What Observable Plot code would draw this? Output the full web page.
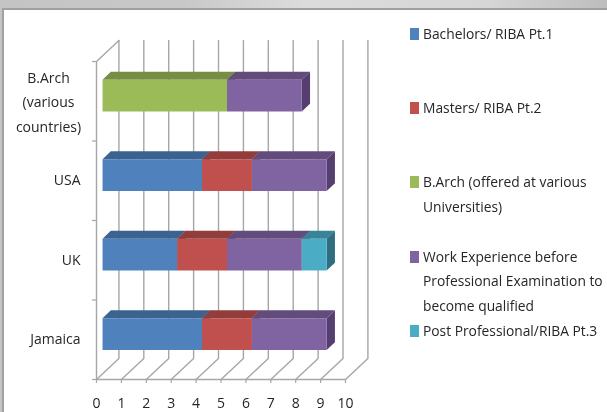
<!DOCTYPE html>
<html>
<head>
<meta charset="utf-8">
<script src="https://cdn.jsdelivr.net/npm/d3@7"></script>
<script src="https://cdn.jsdelivr.net/npm/@observablehq/plot@0.6"></script>
<style>
html,body{margin:0;padding:0;width:607px;height:412px;overflow:hidden;background:#fff;}
#bg{position:absolute;left:0;top:0;width:607px;height:412px;
 background:linear-gradient(90deg,#c4c4c4,#c8c8c8 30%,#dcdcdc 50%,#d6d6d6 80%,#bdbdbd);}
#panel{position:absolute;left:2px;top:8px;width:605px;height:404px;background:#fff;
 border-left:2px solid #a0a0a0;border-top:2px solid #a0a0a0;box-sizing:border-box;}
#wrap{position:absolute;left:0;top:0;width:607px;height:412px;filter:blur(0.45px);}
#chart svg{display:block;position:absolute;left:0;top:0;background:transparent;max-width:none;}
#legend{position:absolute;left:0;top:0;font-family:"Open Sans",sans-serif;font-size:13.8px;color:#262626;}
.item{position:absolute;left:423px;line-height:24.6px;white-space:pre;}
.swatch{position:absolute;left:410px;width:9px;height:12px;}
</style>
</head>
<body>
<div id="bg"></div>
<div id="panel"></div>
<div id="wrap">
<div id="chart"></div>
<div id="legend"></div>
</div>
<script>
const categories = ["Jamaica", "UK", "USA", "B.Arch\n(various\ncountries)"];
const seriesNames = ["Bachelors/ RIBA Pt.1", "Masters/ RIBA Pt.2", "B.Arch (offered at various\nUniversities)", "Work Experience before\nProfessional Examination to\nbecome qualified", "Post Professional/RIBA Pt.3"];
const bachelors = [4, 3, 4, 0];
const masters = [2, 2, 2, 0];
const barch = [0, 0, 0, 5];
const work = [3, 3, 3, 3];
const post = [0, 1, 0, 0];
const xTicks = [0,1,2,3,4,5,6,7,8,9,10];
const front = ["#4f81bd","#c0504d","#9bbb59","#8064a2","#4bacc6"];
const top_ = ["#3c6290","#923d3b","#768e44","#614c7b","#398397"];
const side = ["#3c6290","#923d3b","#768e44","#553f70","#2f6e80"];
const legendTop = [21.5, 96, 170, 244.5, 319];
const seriesValues = [bachelors, masters, barch, work, post];

// oblique projection: depth 0 = front plane, depth 1 = back wall
const DX = 0.9, DY = 0.265;
const P = (v, c, d) => ({px: v + d*DX, py: c + d*DY});
const D0 = 0.27, D1 = 0.64, HALF = 0.2;
const catPos = categories.map((_, i) => i + 0.5);

function poly(points, fill) {
  return Plot.line(points, {x:"px", y:"py", fill, stroke:"none", curve:"linear-closed"});
}
const marks = [];
// walls
const wallColor = "#a6a6a6";
const line = (pts, sw=1.4) => Plot.line(pts, {x:"px", y:"py", stroke:wallColor, strokeWidth:sw});
for (const t of xTicks) {
  marks.push(line([P(t,0,0), P(t,0,1), P(t,4,1)]));
}
marks.push(line([P(0,0,0), P(0,4,0), P(0,4,1)]));
marks.push(line([P(0,0,0), P(10,0,0)]));
// axis ticks
marks.push(Plot.axisX(xTicks, {tickSize:4, tickPadding:15, stroke:wallColor, fontSize:14, fill:"#262626", strokeWidth:1.2, textStroke:"none", label:null}));
marks.push(Plot.axisY([0,1,2,3,4], {tickSize:4, stroke:wallColor, strokeWidth:1.2, tickFormat:()=>"", label:null}));
// bars
categories.forEach((cat, ci) => {
  const c = catPos[ci];
  let start = 0;
  seriesValues.forEach((vals, si) => {
    const v = vals[ci];
    if (!v) return;
    const a = start, b = start + v;
    start = b;
    marks.push(poly([P(a,c+HALF,D0),P(b,c+HALF,D0),P(b,c+HALF,D1),P(a,c+HALF,D1)], top_[si]));
    marks.push(poly([P(b,c-HALF,D0),P(b,c+HALF,D0),P(b,c+HALF,D1),P(b,c-HALF,D1)], side[si]));
    marks.push(poly([P(a,c-HALF,D0),P(b,c-HALF,D0),P(b,c+HALF,D0),P(a,c+HALF,D0)], front[si]));
  });
});
// category labels
marks.push(Plot.axisY(catPos.slice(0,3), {tickSize:0, tickPadding:16, fontSize:14, fill:"#262626", label:null, tickFormat:d=>categories[d-0.5]}));
marks.push(Plot.axisY([catPos[3]], {tickSize:0, tickPadding:48, dy:-2, textAnchor:"middle", lineHeight:1.75, fontSize:14, fill:"#262626", label:null, tickFormat:d=>categories[d-0.5]}));

const chart = Plot.plot({
  width:607, height:412,
  marginLeft:96, marginRight:262, marginTop:61, marginBottom:33,
  x:{domain:[0,10]}, y:{domain:[0,4]},
  style:{background:"transparent", fontFamily:"'Open Sans',sans-serif", color:"#262626", overflow:"visible"},
  marks
});
document.getElementById("chart").appendChild(chart);

// legend to the right of the plot
const legend = d3.select("#legend");
seriesNames.forEach((name, i) => {
  legend.append("div").attr("class","item").style("top", legendTop[i]+"px").text(name);
  legend.append("div").attr("class","swatch").style("top",(legendTop[i]+6)+"px").style("background",front[i]);
});
</script>
</body>
</html>
